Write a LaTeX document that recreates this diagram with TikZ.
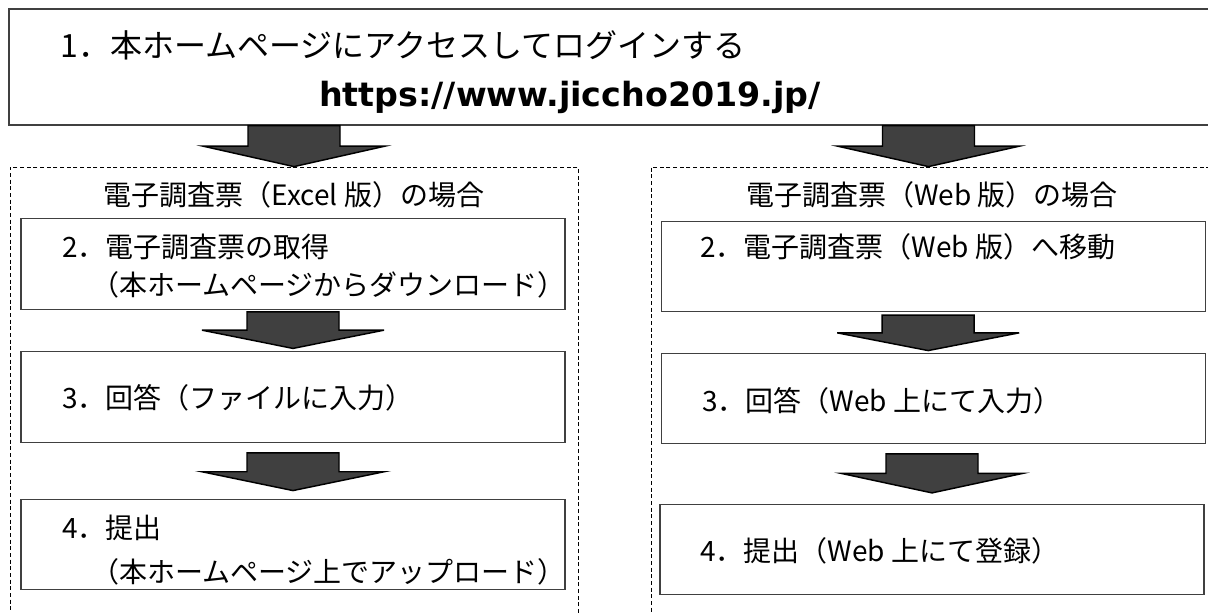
\documentclass[tikz,border=0pt]{standalone}
\usepackage{fontspec}
\setmainfont{Noto Sans CJK JP}
\newfontfamily\urlfont{DejaVu Sans}
\usepackage{xcolor}
\usetikzlibrary{calc}

\definecolor{boxgray}{HTML}{404040}
\definecolor{arrowgray}{HTML}{404040}

\tikzset{
	stepbox/.style={draw=boxgray, line width=0.9pt, minimum width=408pt, minimum height=68pt},
	groupbox/.style={draw=black, dash pattern=on 3pt off 2pt, line width=0.6pt},
	steptext/.style={inner sep=0pt, font=\fontsize{21}{25}\selectfont},
	arrowbody/.style={draw=black, fill=arrowgray, line width=1.1pt, line join=miter},
}

% big block arrow from #1 (top) down to #2 (tip)
\newcommand{\blockarrow}[2]{%
	\filldraw[arrowbody] let \p1=(#1), \p2=(#2), \p3=($(#1)!0.5!(#2)$) in
	(\x2-34.5pt,\y1) -- (\x2+34.5pt,\y1) -- (\x2+34.5pt,\y3) -- (\x2+68.25pt,\y3)
	-- (\x2,\y2) -- (\x2-68.25pt,\y3) -- (\x2-34.5pt,\y3) -- cycle;}

\begin{document}
\begin{tikzpicture}[x=0.75pt,y=-0.75pt]
	\useasboundingbox (0,0) rectangle (1208,612);
	
	% top step
	\node[stepbox, line width=1pt, minimum width=904.5pt, minimum height=87pt] (top) at (612,67) {};
	\node[steptext, anchor=west, font=\fontsize{24}{28}\selectfont] (t1) at (60,45) {1．本ホームページにアクセスしてログインする};
	\node[steptext, font=\urlfont\bfseries\fontsize{25}{29}\selectfont] (url) at (570,97) {https://www.jiccho2019.jp/};
	
	% the two cases
	\node[groupbox, minimum width=426pt, minimum height=343.5pt] (lgroup) at (294,396) {};
	\node[groupbox, minimum width=430.5pt, minimum height=343.5pt] (rgroup) at (938,396) {};
	\node[steptext] (ltitle) at (294,195) {電子調査票（Excel 版）の場合};
	\node[steptext] (rtitle) at (932,195) {電子調査票（Web 版）の場合};
	
	% Excel
	\node[stepbox] (l2) at (293,264) {};
	\node[stepbox] (l3) at (293,397) {};
	\node[stepbox] (l4) at (293,544.5) {};
	\node[steptext, anchor=west] (l2a) at (62,247) {2．電子調査票の取得};
	\node[steptext, anchor=east] (l2b) at (566,285) {（本ホームページからダウンロード）};
	\node[steptext, anchor=west] (l3a) at (62,398) {3．回答（ファイルに入力）};
	\node[steptext, anchor=west] (l4a) at (62,528) {4．提出};
	\node[steptext, anchor=east] (l4b) at (566,572) {（本ホームページ上でアップロード）};
	
	% Web
	\node[stepbox] (r2) at (933.5,266.5) {};
	\node[stepbox] (r3) at (933.5,398.5) {};
	\node[stepbox] (r4) at (932,549.5) {};
	\node[steptext, anchor=west] (r2a) at (700,247) {2．電子調査票（Web 版）へ移動};
	\node[steptext, anchor=west] (r3a) at (702,401) {3．回答（Web 上にて入力）};
	\node[steptext, anchor=west] (r4a) at (700,551) {4．提出（Web 上にて登録）};
	
	% arrows
	\blockarrow{top.south -| lgroup.north}{lgroup.north}
	\blockarrow{[xshift=-3.75pt]top.south -| r2.north}{[xshift=-3.75pt]rgroup.north -| r2.north}
	\blockarrow{[yshift=-1.5pt]l2.south}{[yshift=2pt]l3.north}
	\blockarrow{[yshift=-7.5pt]l3.south}{[yshift=6pt]l4.north}
	\blockarrow{[xshift=-4pt,yshift=-2pt]r2.south}{[xshift=-4pt,yshift=1.5pt]r3.north}
	\blockarrow{[yshift=-7pt]r3.south}{[yshift=8pt]r4.north}
	
\end{tikzpicture}
\end{document}
